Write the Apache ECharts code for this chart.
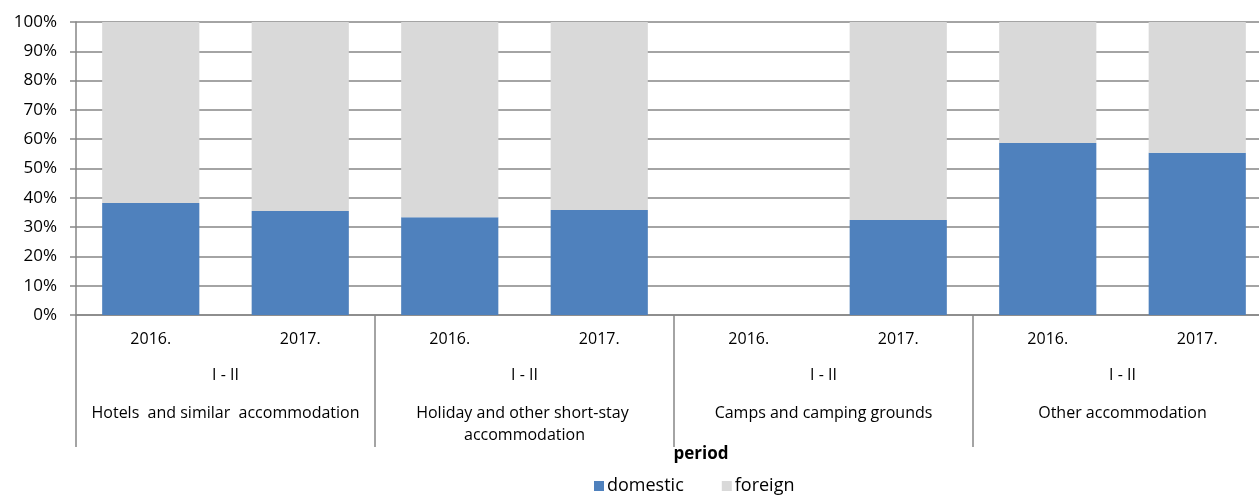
<!DOCTYPE html>
<html>
<head>
<meta charset="utf-8">
<script src="https://cdn.jsdelivr.net/npm/echarts@6/dist/echarts.min.js"></script>
<style>
	html, body { margin: 0; padding: 0; background: #fff; }
	#chart { width: 1259px; height: 495px; }
</style>
</head>
<body>
<div id="chart"></div>
<script>
// years under each bar
var years = ['2016.', '2017.', '2016.', '2017.', '2016.', '2017.', '2016.', '2017.'];
// period row and accommodation groups
var periods = ['I - II', 'I - II', 'I - II', 'I - II'];
var groups = ['Hotels  and similar  accommodation', 'Holiday and other short-stay accommodation', 'Camps and camping grounds', 'Other accommodation'];
// share of domestic / foreign (%), camps 2016 has no data
var domestic = [38.2, 35.5, 33.4, 35.8, '-', 32.4, 58.7, 55.4];
var foreign = [61.8, 64.5, 66.6, 64.2, '-', 67.6, 41.3, 44.6];

var grijs = '#868686';
var font = 'Open Sans';
var tekst = { color: '#000', fontFamily: font, fontSize: 16 };

var myChart = echarts.init(document.getElementById('chart'));
var option = {
	animation: false,
	textStyle: { fontFamily: font },
	title: {
		text: 'period',
		left: 696, top: 441, textAlign: 'center',
		textStyle: { fontFamily: font, fontSize: 17, fontWeight: 'bold', color: '#000' }
	},
	legend: {
		left: 589, top: 472,
		icon: 'rect', itemWidth: 10, itemHeight: 10, itemGap: 38,
		textStyle: { fontFamily: font, fontSize: 18, color: '#000', padding: [0, 0, 0, -2] },
		data: ['domestic', 'foreign']
	},
	grid: { left: 76, top: 22, width: 1196, height: 293, outerBoundsMode: 'none', containLabel: false },
	xAxis: [
		{
			type: 'category', data: years, position: 'bottom',
			axisLine: { lineStyle: { color: grijs, width: 1.5 } },
			axisTick: { show: false },
			axisLabel: Object.assign({ margin: 16, interval: 0 }, tekst)
		},
		{
			type: 'category', data: periods, position: 'bottom', offset: 0,
			axisLine: { show: false },
			axisTick: { show: true, interval: 0, length: 132, lineStyle: { color: grijs, width: 1.5 } },
			axisLabel: Object.assign({ margin: 52, interval: 0 }, tekst)
		},
		{
			type: 'category', data: groups, position: 'bottom', offset: 0,
			axisLine: { show: false },
			axisTick: { show: false },
			axisLabel: Object.assign({ margin: 87, interval: 0, width: 290, overflow: 'break', lineHeight: 22 }, tekst)
		}
	],
	yAxis: {
		type: 'value', min: 0, max: 100, interval: 10,
		axisLine: { show: true, lineStyle: { color: grijs, width: 1.5 } },
		axisTick: { show: true, length: 6, lineStyle: { color: grijs, width: 1.5 } },
		splitLine: { lineStyle: { color: grijs, width: 1.5 } },
		axisLabel: Object.assign({ margin: 19, formatter: '{value}%' }, tekst, { fontSize: 17 })
	},
	series: [
		{
			name: 'domestic', type: 'bar', stack: 'aandeel', barWidth: '65%',
			itemStyle: { color: '#4F81BD' },
			data: domestic
		},
		{
			name: 'foreign', type: 'bar', stack: 'aandeel', barWidth: '65%',
			itemStyle: { color: '#D9D9D9' },
			data: foreign
		}
	]
};
myChart.setOption(option);
</script>
</body>
</html>
